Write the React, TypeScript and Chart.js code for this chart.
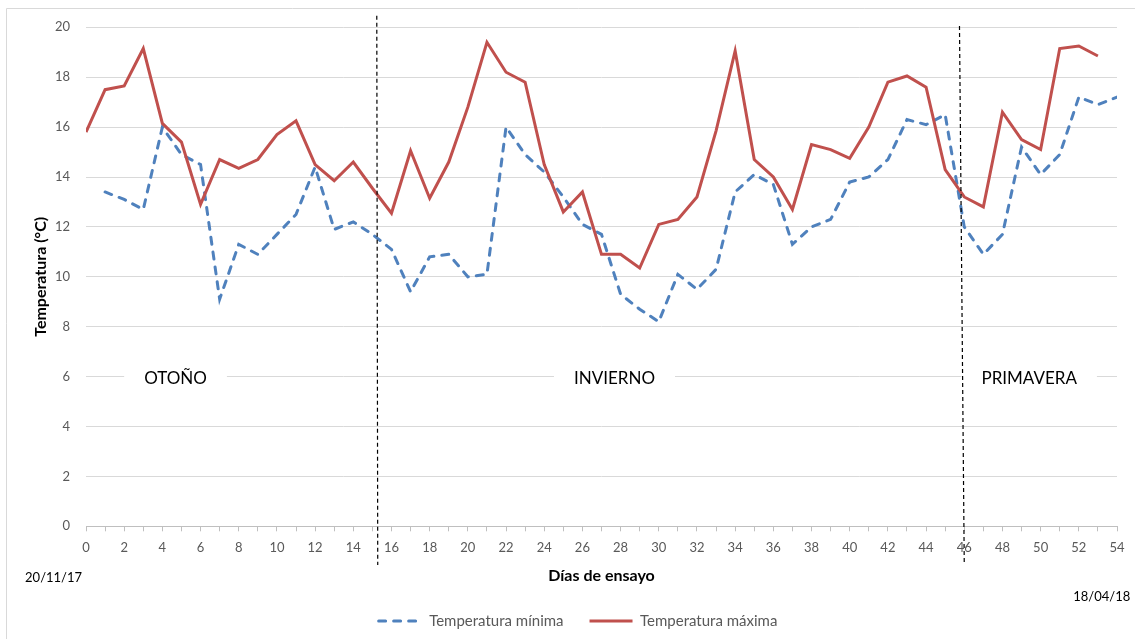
import React, { useEffect, useRef } from 'react';
import { Chart, registerables } from 'chart.js';

Chart.register(...registerables);

// ---------- data ----------
const days = [0, 1, 2, 3, 4, 5, 6, 7, 8, 9, 10, 11, 12, 13, 14, 15, 16, 17, 18, 19, 20, 21, 22, 23, 24, 25, 26, 27, 28, 29, 30, 31, 32, 33, 34, 35, 36, 37, 38, 39, 40, 41, 42, 43, 44, 45, 46, 47, 48, 49, 50, 51, 52, 53, 54];

const tempMin = [null, 13.4, 13.1, 12.7, 16.0, 14.9, 14.5, 9.1, 11.3, 10.9, 11.7, 12.5, 14.4, 11.9, 12.2, 11.7, 11.1, 9.4, 10.8, 10.9, 10.0, 10.1, 16.0, 14.9, 14.2, 13.2, 12.1, 11.7, 9.3, 8.7, 8.2, 10.1, 9.5, 10.3, 13.4, 14.1, 13.7, 11.3, 12.0, 12.3, 13.8, 14.0, 14.7, 16.3, 16.1, 16.5, 12.0, 10.9, 11.7, 15.2, 14.1, 14.9, 17.2, 16.9, 17.2];

const tempMax = [15.8, 17.5, 17.65, 19.15, 16.15, 15.4, 12.9, 14.7, 14.35, 14.7, 15.7, 16.25, 14.5, 13.85, 14.6, 13.55, 12.55, 15.05, 13.15, 14.6, 16.8, 19.4, 18.2, 17.8, 14.5, 12.6, 13.4, 10.9, 10.9, 10.35, 12.1, 12.3, 13.2, 15.85, 19.05, 14.7, 14.0, 12.7, 15.3, 15.1, 14.75, 16.0, 17.8, 18.05, 17.6, 14.3, 13.2, 12.8, 16.6, 15.5, 15.1, 19.15, 19.25, 18.85, null];

const xLabelDays = [0, 2, 4, 6, 8, 10, 12, 14, 16, 18, 20, 22, 24, 26, 28, 30, 32, 34, 36, 38, 40, 42, 44, 46, 48, 50, 52, 54];

const seasonNames = ['OTOÑO', 'INVIERNO', 'PRIMAVERA'];
const seasonCenters = [4.69, 27.68, 49.4];
const seasonLevel = 6;

const dividerTopDays = [15.23, 45.75];
const dividerBottomDays = [15.28, 46.0];

const dateLabels = ['20/11/17', '18/04/18'];
const dateDays = [-1.7, 53.2];

const seriesNames = ['Temperatura mínima', 'Temperatura máxima'];

// ---------- styling ----------
const FONT = 'Lato';
const BLUE = '#4F81BD';
const RED = '#C0504D';
const GRID = '#d9d9d9';
const AXIS = '#bfbfbf';
const TEXT = '#595959';

const overlayPlugin = {
  id: 'overlay',
  beforeDraw(chart: any) {
    const { ctx, width, height } = chart;
    ctx.save();
    ctx.strokeStyle = GRID;
    ctx.lineWidth = 1;
    ctx.beginPath();
    ctx.moveTo(0.5, height);
    ctx.lineTo(0.5, 0.5);
    ctx.lineTo(width, 0.5);
    ctx.stroke();
    ctx.restore();
  },
  afterDatasetsDraw(chart: any) {
    const { ctx, scales } = chart;
    const x = scales.x;
    const y = scales.y;
    ctx.save();
    ctx.font = `17px ${FONT}`;
    ctx.textAlign = 'center';
    ctx.textBaseline = 'middle';
    seasonNames.forEach((name, i) => {
      const cx = x.getPixelForValue(seasonCenters[i]);
      const cy = y.getPixelForValue(seasonLevel);
      const w = ctx.measureText(name).width + 40;
      ctx.fillStyle = '#ffffff';
      ctx.fillRect(cx - w / 2, cy - 10, w, 20);
      ctx.fillStyle = '#000000';
      ctx.fillText(name, cx, cy + 2);
    });
    ctx.restore();
  },
  afterDraw(chart: any) {
    const { ctx, scales, chartArea } = chart;
    const x = scales.x;
    ctx.save();
    // divider lines
    ctx.strokeStyle = '#000000';
    ctx.lineWidth = 1.2;
    ctx.setLineDash([4, 3]);
    const tops = [chartArea.top - 11.5, chartArea.top - 1.3];
    dividerTopDays.forEach((d, i) => {
      ctx.beginPath();
      ctx.moveTo(x.getPixelForValue(d), tops[i]);
      ctx.lineTo(x.getPixelForValue(dividerBottomDays[i]), chartArea.bottom + 38.7);
      ctx.stroke();
    });
    ctx.setLineDash([]);
    // date labels
    ctx.font = `13px ${FONT}`;
    ctx.fillStyle = '#000000';
    ctx.textAlign = 'center';
    ctx.textBaseline = 'middle';
    const offs = [51.7, 70.7];
    dateLabels.forEach((t, i) => {
      ctx.fillText(t, x.getPixelForValue(dateDays[i]), chartArea.bottom + offs[i]);
    });
    ctx.restore();
  },
};

export default function App() {
  const ref = useRef<HTMLCanvasElement>(null);

  useEffect(() => {
    if (!ref.current) return;
    Chart.defaults.font.family = FONT;
    const chart = new Chart(ref.current, {
      type: 'line',
      data: {
        labels: days,
        datasets: [
          {
            label: seriesNames[0],
            data: days.map((d, i) => ({ x: d, y: tempMin[i] })),
            borderColor: BLUE,
            backgroundColor: BLUE,
            borderWidth: 3,
            borderDash: [7, 8],
            borderCapStyle: 'round',
            pointRadius: 0,
            tension: 0,
            order: 1,
          },
          {
            label: seriesNames[1],
            data: days.map((d, i) => ({ x: d, y: tempMax[i] })),
            borderColor: RED,
            backgroundColor: RED,
            borderWidth: 3,
            pointRadius: 0,
            tension: 0,
            order: 0,
          },
        ],
      },
      options: {
        responsive: false,
        animation: false,
        layout: { padding: { left: 0, top: 19.3, right: 0, bottom: 0.5 } },
        plugins: {
          legend: {
            position: 'bottom',
            labels: {
              usePointStyle: true,
              pointStyle: 'line',
              pointStyleWidth: 43,
              padding: 26,
              color: TEXT,
              font: { family: FONT, size: 15 },
              sort: (a: any, b: any) => a.datasetIndex - b.datasetIndex,
              generateLabels: (c: any) => {
                const items = (Chart.defaults as any).plugins.legend.labels.generateLabels(c);
                items.forEach((it: any) => {
                  const ds = c.data.datasets[it.datasetIndex];
                  it.lineDash = ds.borderDash || [];
                  it.lineCap = ds.borderCapStyle || 'butt';
                  it.lineWidth = ds.borderWidth;
                  it.strokeStyle = ds.borderColor;
                });
                return items;
              },
            },
          },
          tooltip: { enabled: false },
        },
        scales: {
          x: {
            type: 'linear',
            min: 0,
            max: 54,
            grid: { drawOnChartArea: false, drawTicks: true, tickLength: 5, color: AXIS },
            border: { display: true, color: AXIS, width: 1 },
            ticks: {
              stepSize: 1,
              autoSkip: false,
              maxRotation: 0,
              minRotation: 0,
              padding: 9,
              color: TEXT,
              font: { family: FONT, size: 13 },
              callback: (v: any) => (xLabelDays.includes(v) ? String(v) : ''),
            },
            title: {
              display: true,
              text: 'Días de ensayo',
              color: '#000000',
              font: { family: FONT, size: 16, weight: 'bold' },
              padding: { top: 0, bottom: 1.9 },
            },
            afterFit: (s: any) => {
              s.height = 61.2;
              s.paddingLeft = 0;
              s.paddingRight = 33;
            },
          },
          y: {
            min: 0,
            max: 20,
            grid: { color: GRID, drawTicks: false },
            border: { display: false },
            ticks: {
              stepSize: 2,
              padding: 16,
              color: TEXT,
              font: { family: FONT, size: 13 },
            },
            title: {
              display: true,
              text: 'Temperatura (°C)',
              color: '#000000',
              font: { family: FONT, size: 16, weight: 'bold' },
              padding: { top: 25.4, bottom: 0 },
            },
            afterFit: (s: any) => {
              s.width = 80;
              s.paddingTop = 0;
              s.paddingBottom = 0;
            },
          },
        },
      } as any,
      plugins: [overlayPlugin],
    });
    return () => chart.destroy();
  }, []);

  return (
    <div style={{ position: 'fixed', left: 0, top: 0, width: 1135, height: 639, overflow: 'hidden', background: '#ffffff' }}>
      <div style={{ position: 'absolute', left: 6, top: 8, width: 1144, height: 631 }}>
        <canvas ref={ref} width={1144} height={631} />
      </div>
    </div>
  );
}
